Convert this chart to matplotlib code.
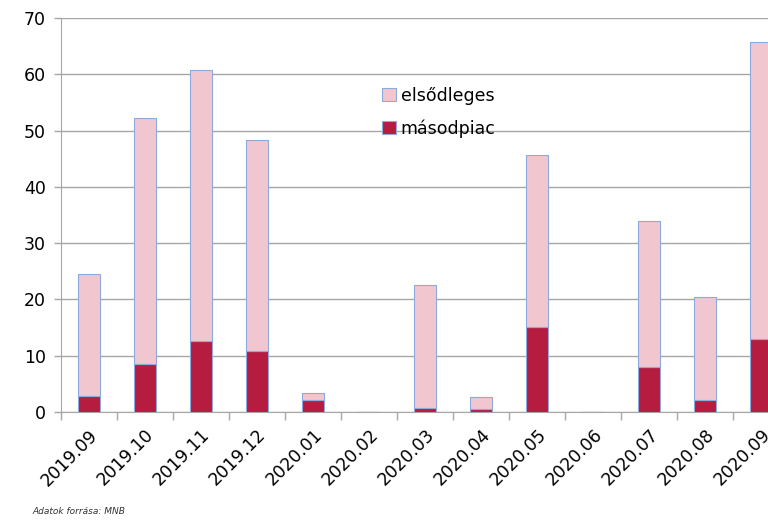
import matplotlib.pyplot as plt
import numpy as np

months = ["2019.09", "2019.10", "2019.11", "2019.12", "2020.01", "2020.02", "2020.03",
          "2020.04", "2020.05", "2020.06", "2020.07", "2020.08", "2020.09"]
osszes = [24.6, 52.3, 60.8, 48.4, 3.3, 0, 22.6, 2.7, 45.6, 0, 33.9, 20.4, 65.7]
masodpiac = [2.9, 8.6, 12.6, 10.8, 2.1, 0, 0.8, 0.5, 15.1, 0, 8.0, 2.1, 13.0]
elsodleges = [t - m for t, m in zip(osszes, masodpiac)]

pink = "#F1C6CE"
red = "#B51C40"
edge = "#8EA9DB"
gridc = "#A6A6A6"

fig = plt.figure(figsize=(7.68, 5.22), dpi=100)
# the plot area runs past the right edge of the picture, as in the original
ax = fig.add_axes([0.0794, 0.2107, 0.948, 0.7548])

x = np.arange(len(months))
ax.bar(x, masodpiac, width=0.4, color=red, edgecolor=edge, linewidth=0.8,
       label="másodpiac", zorder=3)
ax.bar(x, elsodleges, width=0.4, bottom=masodpiac, color=pink, edgecolor=edge,
       linewidth=0.8, label="elsődleges", zorder=3)

ax.set_xlim(-0.5, len(months) - 0.5)
ax.set_ylim(0, 70)
ax.set_yticks(range(0, 71, 10))
ax.yaxis.grid(True, color=gridc, linewidth=1.0, zorder=0)
ax.set_axisbelow(True)

ax.set_xticks(x)
ax.set_xticklabels(months, rotation=45, ha="right", rotation_mode="anchor", fontsize=12.5)
ax.tick_params(axis="x", length=0, pad=10)
ax.set_xticks(np.arange(-0.5, len(months), 1), minor=True)
ax.tick_params(axis="x", which="minor", length=6, color=gridc, width=1)
ax.tick_params(axis="y", length=5, color=gridc, width=1, labelsize=12.5, pad=6)

for s in ["top", "right"]:
    ax.spines[s].set_visible(False)
ax.spines["left"].set_color(gridc)
ax.spines["bottom"].set_color(gridc)

h, l = ax.get_legend_handles_labels()
leg = ax.legend(h[::-1], l[::-1], loc="upper left", bbox_to_anchor=(0.419, 0.865),
                frameon=False, fontsize=12.5, handlelength=0.8, handleheight=0.8,
                handletextpad=0.3, labelspacing=0.82)

fig.text(0.042, 0.015, "Adatok forrása: MNB", fontsize=6.5, style="italic", color="#333333")

fig.savefig("out.png", dpi=100)
